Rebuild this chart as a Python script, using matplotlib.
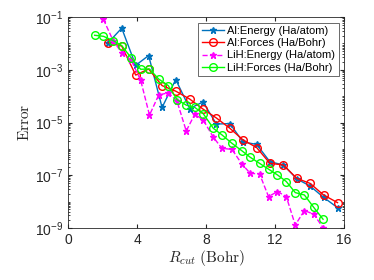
import numpy as np
import matplotlib
matplotlib.use("Agg")
import matplotlib.pyplot as plt
from matplotlib.ticker import LogLocator, NullFormatter, FixedLocator

plt.rcParams['font.family'] = ['Liberation Sans', 'DejaVu Sans']
plt.rcParams['mathtext.fontset'] = 'cm'

# Al data (R_cut in Bohr, errors as log10)
r_al = [2.33, 3.11, 3.92, 4.67, 5.45, 6.24, 7.05, 7.82, 8.60, 9.38,
        10.14, 10.93, 11.70, 12.48, 13.26, 14.03, 14.81, 15.62]
al_energy_log = [-1.97, -1.42, -2.83, -2.46, -4.43, -3.37, -4.47, -4.22, -5.06, -5.04,
                 -5.74, -5.83, -6.49, -6.61, -7.14, -7.41, -7.84, -8.23]
al_forces_log = [-1.97, -2.10, -3.20, -2.97, -3.60, -3.81, -4.11, -4.49, -4.83, -5.22,
                 -5.66, -5.95, -6.55, -6.61, -7.12, -7.31, -7.75, -8.04]

# LiH data
r_lih = [1.54, 2.05, 2.61, 3.11, 3.66, 4.21, 4.72, 5.25, 5.81, 6.31,
         6.85, 7.35, 7.84, 8.42, 8.92, 9.50, 10.07, 10.56, 11.10, 11.62,
         12.14, 12.65, 13.17, 13.70, 14.24, 14.78]
lih_energy_log = [-0.3, -1.09, -1.89, -2.35, -2.63, -3.40, -4.72, -3.96, -3.87, -4.18,
                  -5.32, -4.68, -4.91, -5.56, -5.98, -6.02, -6.57, -6.93, -6.95, -7.81,
                  -7.62, -7.81, -8.89, -8.34, -8.48, -8.99]
lih_forces_log = [-1.69, -1.73, -1.89, -2.08, -2.55, -2.98, -2.97, -3.35, -3.60, -4.13,
                  -4.34, -4.43, -4.67, -5.22, -5.47, -5.79, -6.07, -6.32, -6.55, -6.77,
                  -6.99, -7.24, -7.66, -7.75, -8.22, -8.67]

labels = ['Al:Energy (Ha/atom)', 'Al:Forces (Ha/Bohr)',
          'LiH:Energy (Ha/atom)', 'LiH:Forces (Ha/Bohr)']

fig = plt.figure(figsize=(3.74, 2.8), dpi=100)
ax = fig.add_axes([0.182, 0.186, 0.738, 0.753])

ax.plot(r_al, 10.0 ** np.array(al_energy_log), '-*', color='#0072BD',
        lw=1.0, ms=4.5, label=labels[0])
ax.plot(r_al, 10.0 ** np.array(al_forces_log), '-o', color='#FF0000',
        lw=1.0, ms=5.5, mfc='none', mew=1.0, label=labels[1])
ax.plot(r_lih, 10.0 ** np.array(lih_energy_log), '--*', color='#FF00FF',
        lw=1.0, ms=4.5, label=labels[2])
ax.plot(r_lih, 10.0 ** np.array(lih_forces_log), '-o', color='#00FF00',
        lw=1.0, ms=5.5, mfc='none', mew=1.0, label=labels[3])

ax.set_yscale('log')
ax.set_xlim(0, 16)
ax.set_ylim(1e-9, 1e-1)
ax.set_xticks([0, 4, 8, 12, 16])
ax.yaxis.set_major_locator(FixedLocator([1e-9, 1e-7, 1e-5, 1e-3, 1e-1]))
ax.set_yticklabels([r'$\mathregular{10^{-9}}$', r'$\mathregular{10^{-7}}$',
                    r'$\mathregular{10^{-5}}$', r'$\mathregular{10^{-3}}$',
                    r'$\mathregular{10^{-1}}$'])
ax.yaxis.set_minor_locator(LogLocator(base=10, subs=np.arange(1, 10), numticks=20))
ax.yaxis.set_minor_formatter(NullFormatter())
ax.tick_params(which='both', direction='in', top=True, right=True,
               labelsize=10, color='#262626', labelcolor='#262626')
ax.tick_params(which='major', length=3)
ax.tick_params(which='minor', length=1.6)
for s in ax.spines.values():
    s.set_color('#262626')
    s.set_linewidth(0.6)

ax.set_xlabel(r'$R_{cut}\ \mathrm{(Bohr)}$', fontsize=11, color='#262626', labelpad=1)
ax.set_ylabel(r'$\mathrm{Error}$', fontsize=11, color='#262626', labelpad=2)

leg = ax.legend(loc='upper right', fontsize=8, frameon=True, fancybox=False,
                borderpad=0.3, labelspacing=0.2, handlelength=2.0,
                handletextpad=0.3, borderaxespad=0.5)
leg.get_frame().set_edgecolor('#262626')
leg.get_frame().set_linewidth(0.6)

fig.savefig('out.png', dpi=100)
